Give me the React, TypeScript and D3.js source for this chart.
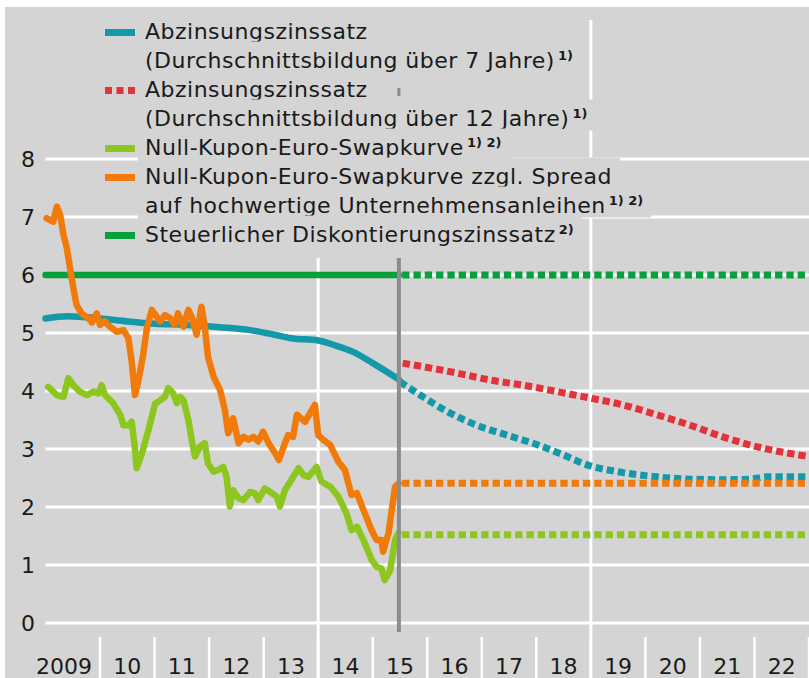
import React, { useEffect, useRef } from 'react';
import * as d3 from 'd3';

// historical monthly series (decimal year, percent)
const swapSpreadHist: [number, number][] = [
  [2009.02, 6.98], [2009.14, 6.92], [2009.21, 7.18], [2009.27, 7.03], [2009.33, 6.69],
  [2009.39, 6.47], [2009.45, 6.12], [2009.51, 5.78], [2009.57, 5.48], [2009.66, 5.34],
  [2009.78, 5.26], [2009.85, 5.18], [2009.94, 5.34], [2010.0, 5.14], [2010.09, 5.2],
  [2010.18, 5.11], [2010.31, 5.02], [2010.43, 5.05], [2010.52, 4.91], [2010.58, 4.51],
  [2010.64, 3.93], [2010.7, 4.16], [2010.79, 4.62], [2010.86, 5.09], [2010.95, 5.4],
  [2011.1, 5.2], [2011.19, 5.31], [2011.28, 5.26], [2011.37, 5.14], [2011.43, 5.34],
  [2011.53, 5.11], [2011.62, 5.4], [2011.68, 5.28], [2011.77, 4.97], [2011.86, 5.45],
  [2011.92, 5.11], [2011.98, 4.59], [2012.08, 4.25], [2012.2, 4.02], [2012.29, 3.67],
  [2012.35, 3.27], [2012.44, 3.53], [2012.54, 3.1], [2012.63, 3.21], [2012.72, 3.16],
  [2012.81, 3.21], [2012.9, 3.13], [2012.99, 3.3], [2013.09, 3.1], [2013.21, 2.93],
  [2013.28, 2.81], [2013.39, 3.1], [2013.45, 3.24], [2013.54, 3.21], [2013.61, 3.59],
  [2013.76, 3.47], [2013.94, 3.76], [2014.0, 3.24], [2014.09, 3.16], [2014.22, 3.07],
  [2014.37, 2.78], [2014.49, 2.64], [2014.61, 2.21], [2014.71, 2.24], [2014.83, 1.95],
  [2014.98, 1.6], [2015.07, 1.43], [2015.16, 1.43], [2015.19, 1.23], [2015.29, 1.55],
  [2015.41, 2.35], [2015.48, 2.41],
];

const swapHist: [number, number][] = [
  [2009.05, 4.07], [2009.21, 3.93], [2009.33, 3.9], [2009.42, 4.22], [2009.51, 4.1],
  [2009.63, 3.99], [2009.76, 3.93], [2009.88, 3.99], [2009.97, 3.96], [2010.03, 4.1],
  [2010.09, 3.93], [2010.24, 3.79], [2010.37, 3.59], [2010.43, 3.41], [2010.52, 3.41],
  [2010.58, 3.47], [2010.64, 3.01], [2010.67, 2.67], [2010.76, 2.9], [2010.88, 3.3],
  [2011.01, 3.78], [2011.1, 3.84], [2011.19, 3.9], [2011.25, 4.05], [2011.34, 3.96],
  [2011.41, 3.79], [2011.47, 3.9], [2011.53, 3.84], [2011.62, 3.5], [2011.68, 3.16],
  [2011.74, 2.87], [2011.83, 3.04], [2011.92, 3.1], [2011.98, 2.75], [2012.08, 2.61],
  [2012.17, 2.64], [2012.26, 2.69], [2012.32, 2.52], [2012.38, 2.01], [2012.44, 2.29],
  [2012.54, 2.15], [2012.63, 2.12], [2012.75, 2.26], [2012.84, 2.24], [2012.9, 2.12],
  [2013.02, 2.32], [2013.12, 2.26], [2013.24, 2.18], [2013.3, 2.01], [2013.39, 2.29],
  [2013.51, 2.47], [2013.64, 2.67], [2013.73, 2.55], [2013.82, 2.52], [2013.97, 2.69],
  [2014.06, 2.44], [2014.22, 2.35], [2014.37, 2.18], [2014.52, 1.89], [2014.61, 1.6],
  [2014.71, 1.66], [2014.83, 1.43], [2014.98, 1.09], [2015.07, 0.97], [2015.16, 0.94],
  [2015.22, 0.74], [2015.32, 0.91], [2015.41, 1.43], [2015.47, 1.55],
];

const rate7Hist: [number, number][] = [
  [2009.0, 5.25], [2009.4, 5.29], [2010.0, 5.25], [2010.5, 5.2], [2011.0, 5.16],
  [2011.6, 5.14], [2012.2, 5.1], [2012.75, 5.05], [2013.2, 4.97], [2013.5, 4.91],
  [2014.0, 4.87], [2014.3, 4.79], [2014.65, 4.67], [2015.0, 4.48], [2015.48, 4.2],
];

// projections from mid-2015
const rate7Proj: [number, number][] = [
  [2015.5, 4.16], [2015.92, 3.9], [2016.42, 3.62], [2016.91, 3.41], [2017.46, 3.24],
  [2017.94, 3.1], [2018.49, 2.9], [2018.98, 2.71], [2019.48, 2.61], [2020.21, 2.52],
  [2020.82, 2.48], [2021.42, 2.47], [2021.92, 2.48], [2022.23, 2.52], [2023.0, 2.52],
];

const rate12Proj: [number, number][] = [
  [2015.55, 4.48], [2015.92, 4.42], [2016.54, 4.31], [2017.15, 4.19], [2017.76, 4.1],
  [2018.38, 3.99], [2018.98, 3.88], [2019.59, 3.76], [2020.21, 3.59], [2020.82, 3.41],
  [2021.42, 3.21], [2022.04, 3.04], [2023.0, 2.87],
];

const taxRate = 6;
const swapProj = 1.52;
const swapSpreadProj = 2.41;
const cutYear = 2015.48;

const yTicks = [0, 1, 2, 3, 4, 5, 6, 7, 8];
const years = [2009, 2010, 2011, 2012, 2013, 2014, 2015, 2016, 2017, 2018, 2019, 2020, 2021, 2022];
const yearLabels = ['2009', '10', '11', '12', '13', '14', '15', '16', '17', '18', '19', '20', '21', '22'];

const colors = {
  teal: '#1499a8',
  red: '#e3323a',
  lime: '#8cc61e',
  orange: '#f07b0a',
  green: '#06a03c',
};

const legendRows = [
  { text: 'Abzinsungszinssatz', sup: '', swatch: 'teal' },
  { text: '(Durchschnittsbildung über 7 Jahre)', sup: '1)', swatch: '' },
  { text: 'Abzinsungszinssatz', sup: '', swatch: 'red' },
  { text: '(Durchschnittsbildung über 12 Jahre)', sup: '1)', swatch: '' },
  { text: 'Null-Kupon-Euro-Swapkurve', sup: '1) 2)', swatch: 'lime' },
  { text: 'Null-Kupon-Euro-Swapkurve zzgl. Spread', sup: '', swatch: 'orange' },
  { text: 'auf hochwertige Unternehmensanleihen', sup: '1) 2)', swatch: '' },
  { text: 'Steuerlicher Diskontierungszinssatz', sup: '2)', swatch: 'green' },
];

const FONT = "'DejaVu Sans', sans-serif";
const BG = '#d4d4d4';

const App = () => {
  const ref = useRef<SVGSVGElement>(null);

  useEffect(() => {
    const svg = d3.select(ref.current);
    svg.selectAll('*').remove();

    const width = 809;
    const height = 678;
    const x = d3.scaleLinear().domain([2009, 2023]).range([45.5, 809]);
    const y = d3.scaleLinear().domain([0, 8]).range([623, 159]);

    svg.append('rect').attr('width', width).attr('height', height).attr('fill', '#fff');
    svg.append('rect').attr('x', 5).attr('y', 7).attr('width', width - 5).attr('height', height - 7).attr('fill', BG);

    // horizontal grid
    svg.append('g')
      .selectAll('line')
      .data(yTicks)
      .join('line')
      .attr('x1', x(2009)).attr('x2', width)
      .attr('y1', d => y(d)).attr('y2', d => y(d))
      .attr('stroke', '#fff').attr('stroke-width', 3);

    // vertical grid
    svg.append('line').attr('x1', x(2014)).attr('x2', x(2014)).attr('y1', 258).attr('y2', height)
      .attr('stroke', '#fff').attr('stroke-width', 3);
    svg.append('line').attr('x1', x(2019)).attr('x2', x(2019)).attr('y1', 20).attr('y2', height)
      .attr('stroke', '#fff').attr('stroke-width', 3);

    // year separators
    svg.append('g')
      .selectAll('line')
      .data(years.slice(1).concat([2023]))
      .join('line')
      .attr('x1', d => x(d)).attr('x2', d => x(d))
      .attr('y1', 637).attr('y2', height)
      .attr('stroke', '#fff').attr('stroke-width', 2.5);

    const line = d3.line<[number, number]>().x(d => x(d[0])).y(d => y(d[1]));
    const smooth = d3.line<[number, number]>().x(d => x(d[0])).y(d => y(d[1])).curve(d3.curveMonotoneX);

    const draw = (data: [number, number][], color: string, gen: any, dashed: boolean) => {
      svg.append('path')
        .datum(data)
        .attr('fill', 'none')
        .attr('stroke', color)
        .attr('stroke-width', dashed ? 7 : 6.5)
        .attr('stroke-linejoin', 'round')
        .attr('stroke-linecap', dashed ? 'butt' : 'round')
        .attr('stroke-dasharray', dashed ? '7.3 4' : null)
        .attr('d', gen);
    };

    // solid history
    draw([[2009, taxRate], [cutYear, taxRate]], colors.green, line, false);
    draw(rate7Hist, colors.teal, smooth, false);
    draw(swapSpreadHist, colors.orange, line, false);
    draw(swapHist, colors.lime, line, false);

    // dashed projections
    const p0 = cutYear + 0.06;
    draw([[p0, taxRate], [2023, taxRate]], colors.green, line, true);
    draw(rate7Proj, colors.teal, smooth, true);
    draw(rate12Proj, colors.red, smooth, true);
    draw([[p0, swapSpreadProj], [2023, swapSpreadProj]], colors.orange, line, true);
    draw([[p0, swapProj], [2023, swapProj]], colors.lime, line, true);

    // cut-off line
    svg.append('line').attr('x1', x(cutYear)).attr('x2', x(cutYear)).attr('y1', 258).attr('y2', 632)
      .attr('stroke', '#8c8c8c').attr('stroke-width', 4);
    svg.append('rect').attr('x', x(cutYear) - 1.5).attr('y', 88).attr('width', 3).attr('height', 8)
      .attr('fill', '#8c8c8c');

    // legend
    const lg = svg.append('g').attr('font-family', FONT)
      .attr('font-size', 22).attr('letter-spacing', 0.5).attr('fill', '#1a1a1a');
    legendRows.forEach((row, i) => {
      const base = 38.5 + i * 29;
      const box = lg.append('rect').attr('fill', BG);
      const t = lg.append('text').attr('x', 145).attr('y', base);
      t.append('tspan').text(row.text);
      if (row.sup) {
        t.append('tspan').attr('dx', 3).attr('dy', -8).attr('font-size', 13).attr('font-weight', 'bold')
          .attr('letter-spacing', 0).text(row.sup);
      }
      const bb = (t.node() as SVGTextElement).getBBox();
      box.attr('x', 138).attr('y', base - 26).attr('height', 31).attr('width', bb.x + bb.width - 138 + 8);
      if (row.swatch === 'red') {
        [0, 1, 2].forEach(k => {
          lg.append('rect').attr('x', 105 + k * 11.5).attr('y', base - 9.5).attr('width', 7).attr('height', 7)
            .attr('fill', colors.red);
        });
      } else if (row.swatch) {
        lg.append('rect').attr('x', 105).attr('y', base - 9.5).attr('width', 30).attr('height', 7)
          .attr('fill', (colors as any)[row.swatch]);
      }
    });

    // axis labels
    const ax = svg.append('g').attr('font-family', FONT)
      .attr('font-size', 22).attr('fill', '#1a1a1a');
    ax.selectAll('text.yl')
      .data(yTicks)
      .join('text')
      .attr('class', 'yl')
      .attr('x', 28).attr('y', d => y(d) + 8)
      .attr('text-anchor', 'middle')
      .text(d => d);
    ax.selectAll('text.xl')
      .data(years)
      .join('text')
      .attr('class', 'xl')
      .attr('x', (d, i) => (i === 0 ? x(d + 1) - 8 : x(d + 0.5)))
      .attr('y', 674)
      .attr('text-anchor', (d, i) => (i === 0 ? 'end' : 'middle'))
      .text((d, i) => yearLabels[i]);
  }, []);

  return (
    <svg ref={ref} width={809} height={678} style={{ position: 'absolute', left: 0, top: 0 }}></svg>
  );
};

export default App;
